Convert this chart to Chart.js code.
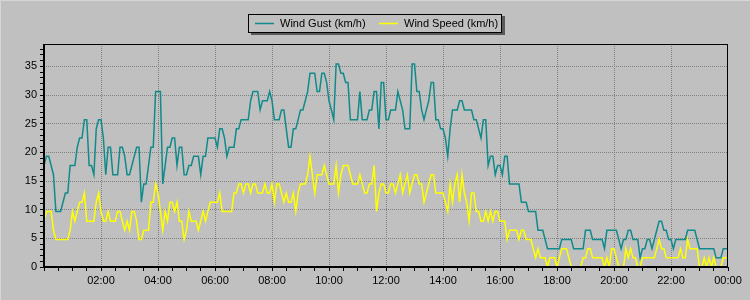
<!DOCTYPE html>
<html>
<head>
<meta charset="utf-8">
<title>Wind Gust / Wind Speed</title>
<script src="https://cdn.jsdelivr.net/npm/chart.js@4.4.1/dist/chart.umd.min.js"></script>
<style>
  html, body { margin: 0; padding: 0; background: #c0c0c0; }
  canvas { display: block; }
</style>
</head>
<body>
<canvas id="windChart" width="750" height="300"></canvas>
<script>
// Wind readings every 5 minutes, 00:00 -> 24:00 (km/h), one row per hour
var windGust = [
  17.7, 19.3, 19.3, 17.7, 16.1, 9.7, 9.7, 9.7, 11.3, 12.9, 12.9, 17.7,
  17.7, 17.7, 20.9, 22.5, 22.5, 25.7, 25.7, 17.7, 17.7, 16.1, 24.1, 25.7,
  25.7, 22.5, 16.1, 20.9, 20.9, 16.1, 16.1, 16.1, 20.9, 20.9, 19.3, 16.1,
  16.1, 17.7, 19.3, 20.9, 20.9, 11.3, 14.5, 14.5, 17.7, 20.9, 20.9, 30.6,
  30.6, 30.6, 14.5, 17.7, 20.9, 20.9, 22.5, 22.5, 17.7, 20.9, 20.9, 16.1,
  16.1, 17.7, 17.7, 19.3, 19.3, 19.3, 16.1, 19.3, 19.3, 22.5, 22.5, 22.5,
  22.5, 20.9, 24.1, 24.1, 22.5, 19.3, 20.9, 20.9, 20.9, 24.1, 24.1, 25.7,
  25.7, 25.7, 25.7, 29.0, 30.6, 30.6, 30.6, 27.4, 29.0, 29.0, 29.0, 30.6,
  29.0, 25.7, 25.7, 25.7, 27.4, 27.4, 24.1, 20.9, 20.9, 24.1, 24.1, 25.7,
  27.4, 27.4, 29.0, 30.6, 33.8, 33.8, 33.8, 30.6, 30.6, 33.8, 33.8, 32.2,
  29.0, 27.4, 25.7, 35.4, 35.4, 33.8, 33.8, 32.2, 32.2, 25.7, 25.7, 25.7,
  25.7, 30.6, 25.7, 25.7, 25.7, 27.4, 27.4, 30.6, 30.6, 24.1, 32.2, 32.2,
  25.7, 25.7, 27.4, 27.4, 27.4, 30.6, 29.0, 27.4, 24.1, 24.1, 24.1, 35.4,
  35.4, 30.6, 30.6, 27.4, 25.7, 27.4, 29.0, 32.2, 32.2, 25.7, 25.7, 24.1,
  24.1, 22.5, 19.3, 24.1, 27.4, 27.4, 27.4, 29.0, 29.0, 27.4, 27.4, 27.4,
  27.4, 25.7, 25.7, 24.1, 22.5, 25.7, 25.7, 17.7, 19.3, 19.3, 16.1, 17.7,
  17.7, 16.1, 19.3, 19.3, 14.5, 14.5, 14.5, 14.5, 14.5, 11.3, 11.3, 11.3,
  9.7, 9.7, 9.7, 9.7, 6.4, 6.4, 6.4, 4.8, 3.2, 3.2, 3.2, 3.2,
  3.2, 3.2, 4.8, 4.8, 4.8, 4.8, 4.8, 3.2, 3.2, 3.2, 3.2, 3.2,
  6.4, 6.4, 6.4, 4.8, 4.8, 4.8, 4.8, 4.8, 3.2, 6.4, 6.4, 6.4,
  6.4, 6.4, 4.8, 3.2, 4.8, 4.8, 6.4, 6.4, 4.8, 4.8, 4.8, 1.6,
  3.2, 3.2, 4.8, 4.8, 3.2, 4.8, 6.4, 8.0, 8.0, 6.4, 6.4, 4.8,
  4.8, 3.2, 4.8, 4.8, 4.8, 4.8, 4.8, 6.4, 6.4, 6.4, 6.4, 4.8,
  3.2, 3.2, 3.2, 3.2, 3.2, 3.2, 3.2, 1.6, 1.6, 1.6, 3.2, 3.2,
  3.2
];

var windSpeed = [
  8.0, 9.7, 9.7, 9.7, 6.4, 4.8, 4.8, 4.8, 4.8, 4.8, 4.8, 6.4,
  9.7, 8.0, 9.7, 11.3, 11.3, 12.9, 8.0, 8.0, 8.0, 8.0, 11.3, 12.9,
  9.7, 8.0, 8.0, 9.7, 8.0, 8.0, 8.0, 9.7, 9.7, 8.0, 6.4, 8.0,
  6.4, 9.7, 9.7, 8.0, 4.8, 4.8, 6.4, 6.4, 6.4, 11.3, 11.3, 14.5,
  12.9, 9.7, 6.4, 9.7, 8.0, 11.3, 11.3, 9.7, 11.3, 8.0, 8.0, 4.8,
  6.4, 9.7, 8.0, 8.0, 8.0, 6.4, 8.0, 9.7, 8.0, 9.7, 11.3, 11.3,
  11.3, 11.3, 12.9, 9.7, 9.7, 9.7, 9.7, 9.7, 12.9, 12.9, 14.5, 14.5,
  12.9, 14.5, 14.5, 12.9, 14.5, 14.5, 12.9, 12.9, 12.9, 14.5, 12.9, 12.9,
  14.5, 11.3, 14.5, 14.5, 12.9, 11.3, 12.9, 11.3, 11.3, 12.9, 9.7, 12.9,
  14.5, 14.5, 14.5, 16.1, 19.3, 16.1, 12.9, 16.1, 16.1, 16.1, 17.7, 16.1,
  14.5, 14.5, 14.5, 17.7, 12.9, 16.1, 17.7, 17.7, 17.7, 16.1, 14.5, 14.5,
  14.5, 16.1, 14.5, 12.9, 12.9, 14.5, 14.5, 17.7, 9.7, 12.9, 14.5, 14.5,
  12.9, 12.9, 14.5, 14.5, 12.9, 14.5, 16.1, 12.9, 14.5, 16.1, 12.9, 14.5,
  16.1, 16.1, 14.5, 14.5, 11.3, 12.9, 14.5, 16.1, 16.1, 12.9, 12.9, 12.9,
  12.9, 11.3, 9.7, 14.5, 11.3, 14.5, 16.1, 11.3, 16.1, 12.9, 11.3, 8.0,
  12.9, 12.9, 9.7, 9.7, 8.0, 8.0, 9.7, 8.0, 9.7, 8.0, 9.7, 9.7,
  8.0, 8.0, 8.0, 4.8, 6.4, 6.4, 6.4, 6.4, 4.8, 6.4, 6.4, 4.8,
  4.8, 4.8, 3.2, 1.6, 3.2, 1.6, 1.6, 1.6, 0, 1.6, 1.6, 1.6,
  0, 1.6, 3.2, 3.2, 3.2, 1.6, 0, 0, 0, 0, 0, 1.6,
  1.6, 3.2, 3.2, 1.6, 1.6, 1.6, 1.6, 1.6, 0, 1.6, 0, 3.2,
  3.2, 1.6, 0, 0, 0, 3.2, 1.6, 3.2, 1.6, 1.6, 0, 0,
  1.6, 1.6, 1.6, 1.6, 1.6, 1.6, 3.2, 4.8, 3.2, 3.2, 1.6, 1.6,
  1.6, 1.6, 1.6, 1.6, 3.2, 1.6, 1.6, 4.8, 3.2, 3.2, 3.2, 3.2,
  0, 0, 1.6, 0, 1.6, 0, 1.6, 0, 0, 0, 1.6, 1.6,
  1.6
];

var seriesNames = ['Wind Gust (km/h)', 'Wind Speed (km/h)'];
var seriesColors = ['#108a8a', '#ffff00'];
var yMax = 38.9;

// Time labels for the 5 minute samples
var timeLabels = [];
for (var m = 0; m <= 24 * 60; m += 5) {
  var h = Math.floor(m / 60) % 24;
  var mm = m % 60;
  timeLabels.push((h < 10 ? '0' : '') + h + ':' + (mm < 10 ? '0' : '') + mm);
}

// Minor ticks on the value axis, one per unit
var yTickValues = [];
for (var v = 0; v <= 38; v++) yTickValues.push(v);

var GRID = '#808080';
var NONE = 'rgba(0,0,0,0)';

Chart.defaults.font.family = '"Liberation Sans", Arial, sans-serif';
Chart.defaults.font.size = 11;
Chart.defaults.color = '#000';

// Background, frame and boxed legend
var framePlugin = {
  id: 'framePlugin',
  beforeDraw: function(chart) {
    var ctx = chart.ctx;
    ctx.save();
    ctx.fillStyle = '#c0c0c0';
    ctx.fillRect(0, 0, chart.width, chart.height);
    // light bevel on the outer edge
    ctx.fillStyle = '#d6d6d6';
    ctx.fillRect(0, 0, chart.width, 1);
    ctx.fillRect(0, 0, 1, chart.height);
    ctx.restore();
  },
  afterDatasetsDraw: function(chart) {
    var ctx = chart.ctx;
    var a = chart.chartArea;
    ctx.save();
    ctx.fillStyle = '#000';
    ctx.fillRect(a.left, a.top, a.right - a.left, 1);
    ctx.fillRect(a.right - 1, a.top, 1, a.bottom - a.top);
    ctx.fillRect(a.left - 1, a.top, 2, a.bottom - a.top + 1);
    ctx.fillRect(a.left - 1, a.bottom - 1, a.right - a.left + 1, 2);
    ctx.restore();
  },
  afterDraw: function(chart) {
    var ctx = chart.ctx;
    ctx.save();
    // legend box with drop shadow
    ctx.fillStyle = '#5a5a5a';
    ctx.fillRect(251, 16, 254, 19);
    ctx.fillStyle = '#c0c0c0';
    ctx.fillRect(248, 14, 254, 19);
    ctx.strokeStyle = '#000';
    ctx.lineWidth = 1;
    ctx.strokeRect(248.5, 14.5, 253, 18);

    var items = [
      { x: 255, text: seriesNames[0], color: seriesColors[0] },
      { x: 379, text: seriesNames[1], color: seriesColors[1] }
    ];
    ctx.font = '11px "Liberation Sans", Arial, sans-serif';
    ctx.textBaseline = 'middle';
    items.forEach(function(it) {
      ctx.strokeStyle = it.color;
      ctx.lineWidth = 1.5;
      ctx.beginPath();
      ctx.moveTo(it.x, 23.5);
      ctx.lineTo(it.x + 19, 23.5);
      ctx.stroke();
      ctx.fillStyle = '#000';
      ctx.fillText(it.text, it.x + 25, 23.5);
    });
    ctx.restore();
  }
};

new Chart(document.getElementById('windChart'), {
  type: 'line',
  data: {
    labels: timeLabels,
    datasets: [
      {
        label: seriesNames[0],
        data: windGust,
        borderColor: seriesColors[0],
        borderWidth: 1.5,
        pointRadius: 0,
        tension: 0,
        fill: false
      },
      {
        label: seriesNames[1],
        data: windSpeed,
        borderColor: seriesColors[1],
        borderWidth: 1.5,
        pointRadius: 0,
        tension: 0,
        fill: false
      }
    ]
  },
  options: {
    responsive: false,
    animation: false,
    layout: { padding: { top: 44, right: 22, left: 0, bottom: 0 } },
    plugins: {
      legend: { display: false },
      tooltip: { enabled: false }
    },
    scales: {
      x: {
        type: 'category',
        offset: false,
        grid: {
          color: function(c) {
            return (c.index % 24 === 0 && c.index > 0 && c.index < 288) ? GRID : NONE;
          },
          tickColor: function(c) {
            return c.index % 6 === 0 ? '#000' : NONE;
          },
          tickLength: 4,
          lineWidth: 1
        },
        border: { display: false, dash: [1, 1] },
        ticks: {
          autoSkip: false,
          maxRotation: 0,
          minRotation: 0,
          padding: 3,
          callback: function(val, i) {
            return (i % 24 === 0 && i > 0) ? this.getLabelForValue(val) : '';
          }
        },
        afterFit: function(s) { s.height = 33; }
      },
      y: {
        min: 0,
        max: yMax,
        afterBuildTicks: function(s) {
          s.ticks = yTickValues.map(function(t) { return { value: t }; });
        },
        grid: {
          color: function(c) {
            return (c.tick && c.tick.value % 5 === 0 && c.tick.value > 0) ? GRID : NONE;
          },
          tickColor: '#000',
          tickLength: 4,
          lineWidth: 1
        },
        border: { display: false, dash: [1, 1] },
        ticks: {
          autoSkip: false,
          padding: 3,
          callback: function(val) {
            return val % 5 === 0 ? String(val) : '';
          }
        },
        afterFit: function(s) { s.width = 44; }
      }
    }
  },
  plugins: [framePlugin]
});
</script>
</body>
</html>
